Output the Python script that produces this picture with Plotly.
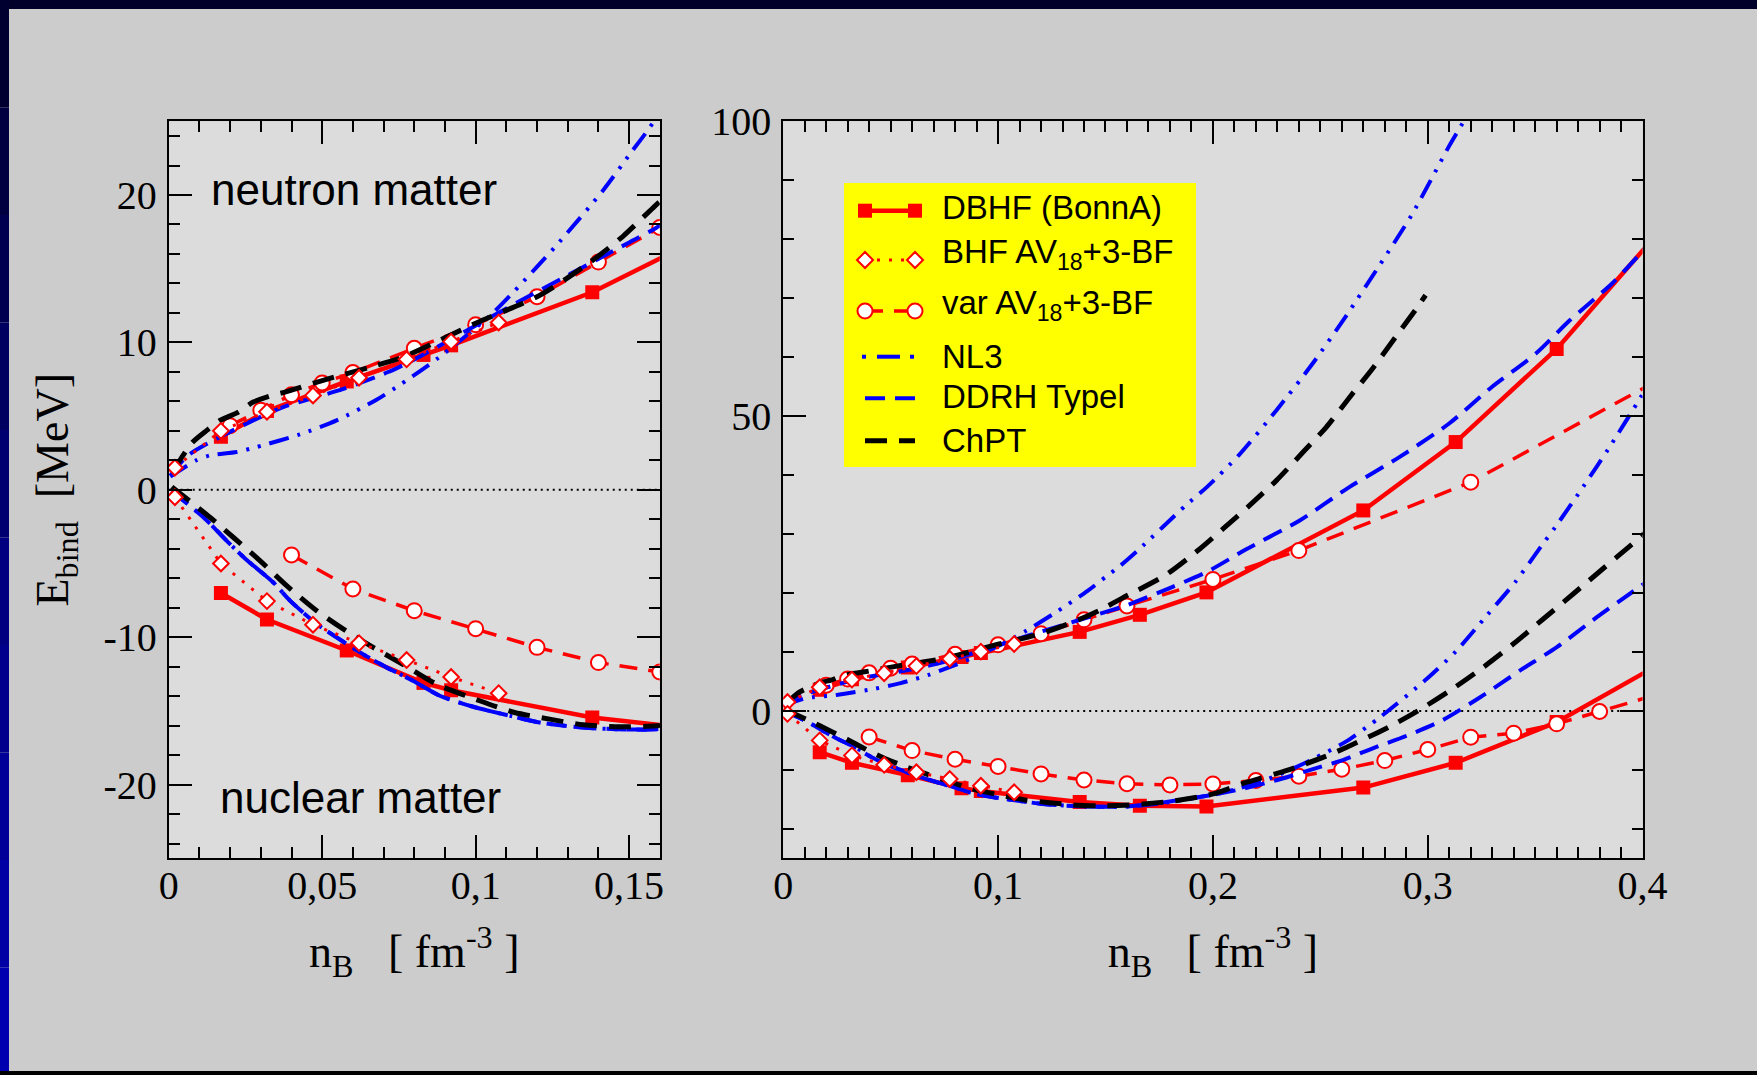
import plotly.graph_objects as go

# ------------------------------------------------------------------
# Data  (n_B in fm^-3, E_bind in MeV)
# ------------------------------------------------------------------
# DBHF (Bonn A)
dbhf_n = [0.017, 0.032, 0.058, 0.083, 0.092, 0.138, 0.166, 0.197, 0.270, 0.313, 0.360, 0.420]
dbhf_neutron_E = [3.6, 5.35, 7.35, 9.15, 9.8, 13.4, 16.3, 20.1, 34.0, 45.6, 61.4, 86.4]
dbhf_nuclear_E = [-7.0, -8.8, -10.9, -13.1, -13.6, -15.45, -16.1, -16.2, -13.0, -8.8, -1.9, 10.4]

# BHF AV18 + 3-BF
bhf_n = [0.002, 0.017, 0.032, 0.047, 0.062, 0.0775, 0.092, 0.1075]
bhf_neutron_E = [1.5, 4.0, 5.3, 6.4, 7.6, 8.85, 10.05, 11.35]
bhf_nuclear_E = [-0.5, -5.0, -7.55, -9.15, -10.4, -11.55, -12.7, -13.8]

# variational AV18 + 3-BF
var_neutron_n = [0.02, 0.03, 0.04, 0.05, 0.06, 0.08, 0.10, 0.12, 0.14, 0.16, 0.20, 0.24, 0.32, 0.48]
var_neutron_E = [4.35, 5.4, 6.45, 7.25, 7.95, 9.6, 11.2, 13.1, 15.45, 17.8, 22.3, 27.2, 38.8, 70.5]
var_nuclear_n = [0.04, 0.06, 0.08, 0.10, 0.12, 0.14, 0.16, 0.18, 0.20, 0.22, 0.24, 0.26,
                 0.28, 0.30, 0.32, 0.34, 0.36, 0.38, 0.42]
var_nuclear_E = [-4.42, -6.73, -8.2, -9.42, -10.69, -11.72, -12.36, -12.55, -12.38, -11.81, -11.07, -9.9,
                 -8.42, -6.55, -4.46, -3.78, -2.19, -0.1, 4.2]

# NL3
nl3_neutron_n = [0.0005, 0.009, 0.0134, 0.0221, 0.0286, 0.0427, 0.0547, 0.0677, 0.0759, 0.0878, 0.1046,
                 0.1127, 0.1258, 0.1415, 0.1502, 0.1567, 0.1653, 0.1872, 0.1973, 0.2119, 0.2296, 0.2466,
                 0.2622, 0.2776, 0.2925, 0.3098, 0.3156, 0.33]
nl3_neutron_E = [0.9, 2.0, 2.33, 2.56, 2.9, 3.76, 4.71, 6.11, 7.2, 8.94, 11.8,
                 13.5, 16.46, 20.31, 22.76, 24.57, 27.3, 34.8, 38.0, 43.3, 51.0, 59.0,
                 67.1, 75.6, 84.1, 95.7, 99.3, 108.5]
nl3_nuclear_n = [0.001, 0.0113, 0.0199, 0.0254, 0.034, 0.0395, 0.0482, 0.0547, 0.0623, 0.071, 0.0796,
                 0.0883, 0.0992, 0.1111, 0.1209, 0.135, 0.1459, 0.1589, 0.1754, 0.2002, 0.2127, 0.2297,
                 0.2468, 0.2615, 0.2778, 0.2996, 0.3135, 0.3275, 0.3407, 0.3531, 0.3594, 0.3727, 0.3842,
                 0.3991, 0.41]
nl3_nuclear_E = [-0.1, -1.86, -3.67, -4.76, -6.27, -7.52, -9.1, -10.01, -11.03, -12.05, -12.96,
                 -13.97, -14.72, -15.33, -15.79, -16.13, -16.24, -16.24, -15.7, -14.2, -13.1, -11.0,
                 -8.13, -5.3, -1.07, 5.45, 10.25, 16.19, 21.84, 28.07, 31.2, 38.2, 44.5,
                 53.2, 60.0]

# DDRH (Typel)
ddrh_neutron_n = [0.0005, 0.0064, 0.0275, 0.0373, 0.0569, 0.0715, 0.0799, 0.1138, 0.1502, 0.1589, 0.181,
                  0.1973, 0.2155, 0.2404, 0.2635, 0.2866, 0.3098, 0.3297, 0.3503, 0.366, 0.3858, 0.3991, 0.41]
ddrh_neutron_E = [0.95, 2.35, 4.71, 5.61, 6.84, 7.99, 8.83, 12.74, 16.8, 17.78, 21.0,
                  23.6, 27.4, 32.3, 37.96, 43.0, 48.7, 54.9, 60.6, 66.2, 72.5, 77.6, 81.8]
ddrh_nuclear_n = [0.001, 0.0113, 0.0199, 0.0254, 0.034, 0.0395, 0.0482, 0.0547, 0.0623, 0.071, 0.0796,
                  0.0883, 0.0992, 0.1111, 0.1209, 0.135, 0.1459, 0.1589, 0.1754, 0.2002, 0.2127, 0.2282,
                  0.25, 0.2608, 0.2747, 0.2903, 0.3066, 0.3244, 0.343, 0.3601, 0.3787, 0.3973, 0.41]
ddrh_nuclear_E = [-0.1, -1.86, -3.67, -4.76, -6.27, -7.52, -9.1, -10.01, -11.03, -12.05, -12.96,
                  -13.97, -14.72, -15.33, -15.79, -16.13, -16.24, -16.24, -15.6, -14.2, -13.3, -11.9,
                  -9.5, -8.3, -6.3, -4.2, -1.63, 2.32, 6.86, 10.81, 15.9, 20.7, 24.0]

# ChPT
chpt_neutron_n = [0.0015, 0.0075, 0.0124, 0.0167, 0.0227, 0.0275, 0.0335, 0.0379, 0.0503, 0.0666, 0.0764,
                  0.10, 0.12, 0.1296, 0.1399, 0.148, 0.1578, 0.1778, 0.194, 0.2048, 0.2172, 0.2296,
                  0.242, 0.2527, 0.2643, 0.2748, 0.285, 0.2941, 0.299]
chpt_neutron_E = [1.3, 3.17, 4.03, 4.7, 5.27, 5.95, 6.4, 6.63, 7.43, 8.38, 9.01,
                  11.3, 13.1, 14.33, 15.85, 17.2, 19.13, 23.0, 27.5, 30.9, 34.9, 39.1,
                  43.9, 48.1, 53.5, 58.3, 63.4, 67.9, 70.5]
chpt_nuclear_n = [0.001, 0.0134, 0.021, 0.0297, 0.0384, 0.0482, 0.0568, 0.0666, 0.0764, 0.0872, 0.1013,
                  0.1127, 0.1241, 0.135, 0.1469, 0.1589, 0.1676, 0.1832, 0.2002, 0.2158, 0.2344, 0.2515,
                  0.2623, 0.2817, 0.2957, 0.3104, 0.3259, 0.3399, 0.3539, 0.3678, 0.3818, 0.3942, 0.41]
chpt_nuclear_E = [0.2, -1.86, -3.22, -4.8, -6.5, -8.2, -9.44, -10.69, -11.85, -13.18, -14.31,
                  -15.11, -15.56, -15.94, -16.08, -16.01, -15.8, -15.2, -14.07, -12.1, -10.1, -7.85,
                  -6.16, -2.77, 0.07, 3.46, 7.42, 11.38, 15.63, 19.87, 24.2, 28.0, 33.0]

# tick labels (decimal comma, plain hyphen)
left_x_ticks = [0, 0.05, 0.1, 0.15]
left_x_text = ["0", "0,05", "0,1", "0,15"]
left_y_ticks = [-20, -10, 0, 10, 20]
left_y_text = ["-20", "-10", "0", "10", "20"]
right_x_ticks = [0, 0.1, 0.2, 0.3, 0.4]
right_x_text = ["0", "0,1", "0,2", "0,3", "0,4"]
right_y_ticks = [0, 50, 100]
right_y_text = ["0", "50", "100"]

legend_labels = ["DBHF (BonnA)", "BHF AV<sub>18</sub>+3-BF", "var AV<sub>18</sub>+3-BF",
                 "NL3", "DDRH Typel", "ChPT"]

# ------------------------------------------------------------------
# Styles
# ------------------------------------------------------------------
RED, BLUE, BLACK = "#ff0000", "#0000ff", "#000000"
SERIF = "Liberation Serif"
SANS = "Liberation Sans"

styles = {
    "DBHF": dict(line=dict(color=RED, width=4.5, dash="solid", shape="linear"),
                 marker=dict(symbol="square", size=14, color=RED, line=dict(width=0)),
                 mode="lines+markers", glyph="square"),
    "BHF": dict(line=dict(color=RED, width=3, dash="3px,9px", shape="linear"),
                marker=dict(symbol="diamond", size=12, color="white", line=dict(color=RED, width=2)),
                mode="lines+markers", glyph="diamond"),
    "var": dict(line=dict(color=RED, width=3.5, dash="18px,11px", shape="linear"),
                marker=dict(symbol="circle", size=15, color="white", line=dict(color=RED, width=2)),
                mode="lines+markers", glyph="circle"),
    "NL3": dict(line=dict(color=BLUE, width=4, dash="20px,9px,3px,9px,3px,9px", shape="spline", smoothing=0.7),
                marker=None, mode="lines", glyph=None),
    "DDRH": dict(line=dict(color=BLUE, width=4, dash="20px,10px", shape="spline", smoothing=0.7),
                 marker=None, mode="lines", glyph=None),
    "ChPT": dict(line=dict(color=BLACK, width=5, dash="22px,12px", shape="spline", smoothing=0.7),
                 marker=None, mode="lines", glyph=None),
}

series = {
    "DBHF": [(dbhf_n, dbhf_neutron_E), (dbhf_n, dbhf_nuclear_E)],
    "BHF": [(bhf_n, bhf_neutron_E), (bhf_n, bhf_nuclear_E)],
    "var": [(var_neutron_n, var_neutron_E), (var_nuclear_n, var_nuclear_E)],
    "NL3": [(nl3_neutron_n, nl3_neutron_E), (nl3_nuclear_n, nl3_nuclear_E)],
    "DDRH": [(ddrh_neutron_n, ddrh_neutron_E), (ddrh_nuclear_n, ddrh_nuclear_E)],
    "ChPT": [(chpt_neutron_n, chpt_neutron_E), (chpt_nuclear_n, chpt_nuclear_E)],
}
draw_order = ["DBHF", "var", "NL3", "DDRH", "ChPT", "BHF"]
legend_order = ["DBHF", "BHF", "var", "NL3", "DDRH", "ChPT"]

# ------------------------------------------------------------------
# Geometry (pixels of the 1757 x 1075 page)
# ------------------------------------------------------------------
W, H = 1757, 1075
def fx(p):
    return p / W
def fy(p):
    return 1 - p / H

PLOT_TOP, PLOT_BOTTOM = 121.3, 858.3
LEFT_X0, LEFT_X1 = 168.75, 659.8
RIGHT_X0, RIGHT_X1 = 783.2, 1642.6

fig = go.Figure()

for key in draw_order:
    st = styles[key]
    for xa, ya in (("x", "y"), ("x2", "y2")):
        for n, e in series[key]:
            kw = dict(x=n, y=e, mode=st["mode"], line=st["line"], xaxis=xa, yaxis=ya,
                      showlegend=False, hoverinfo="skip", cliponaxis=True)
            if st["marker"] is not None:
                kw["marker"] = st["marker"]
            fig.add_trace(go.Scatter(**kw))

tickfont = dict(family=SERIF, size=40, color="black")
titlefont = dict(family=SERIF, size=46, color="black")

def axis(rng, dom, tickvals, ticktext, minor_dtick, **extra):
    d = dict(range=rng, domain=dom, tickmode="array", tickvals=tickvals, ticktext=ticktext,
             showline=True, linecolor="black", linewidth=2, mirror="allticks",
             ticks="inside", ticklen=23, tickwidth=2, tickcolor="black",
             minor=dict(ticks="inside", ticklen=11, tickwidth=2, tickcolor="black",
                        dtick=minor_dtick, tick0=0, showgrid=False),
             showgrid=False, zeroline=False, tickfont=tickfont, fixedrange=True,
             automargin=False)
    d.update(extra)
    return d

xtitle = "n<sub>B</sub>\u00a0\u00a0\u00a0[ fm<sup>-3</sup> ]"

fig.update_layout(
    width=W, height=H, autosize=False, margin=dict(l=0, r=0, t=0, b=0, pad=0),
    paper_bgcolor="#cccccc", plot_bgcolor="#dcdcdc",
    showlegend=False,
    xaxis=axis([0, 0.16], [fx(LEFT_X0), fx(LEFT_X1)], left_x_ticks, left_x_text, 0.01,
               anchor="y", ticklabelstandoff=-9,
               title=dict(text=xtitle, font=titlefont, standoff=28)),
    yaxis=axis([-25, 25], [fy(PLOT_BOTTOM), fy(PLOT_TOP)], left_y_ticks, left_y_text, 2,
               anchor="x", ticklabelstandoff=2,
               title=dict(text="E<sub>bind</sub>\u00a0\u00a0[MeV]", font=titlefont, standoff=20)),
    xaxis2=axis([0, 0.4], [fx(RIGHT_X0), fx(RIGHT_X1)], right_x_ticks, right_x_text, 0.01,
                anchor="y2", ticklabelstandoff=-9,
                title=dict(text=xtitle, font=titlefont, standoff=28)),
    yaxis2=axis([-25, 100], [fy(PLOT_BOTTOM), fy(PLOT_TOP)], right_y_ticks, right_y_text, 10,
                anchor="x2", ticklabelstandoff=2),
)

shapes = []
# dotted zero lines
for xr, yr in (("x domain", "y"), ("x2 domain", "y2")):
    shapes.append(dict(type="line", xref=xr, yref=yr, x0=0, x1=1, y0=0, y1=0,
                       line=dict(color="black", width=2, dash="2px,4px"), layer="below"))

# slide frame (dark border)
shapes.append(dict(type="rect", xref="paper", yref="paper", x0=0, x1=1, y0=fy(9), y1=1,
                   fillcolor="#00002a", line=dict(width=0), layer="below"))
frame_cols = ["#000030", "#000040", "#000050", "#000060", "#000070", "#000080",
              "#00008c", "#000098", "#0000a4", "#0000b0"]
for i, c in enumerate(frame_cols):
    shapes.append(dict(type="rect", xref="paper", yref="paper", x0=0, x1=fx(9),
                       y0=fy(H * (i + 1) / len(frame_cols)), y1=fy(H * i / len(frame_cols)),
                       fillcolor=c, line=dict(width=0), layer="below"))
shapes.append(dict(type="rect", xref="paper", yref="paper", x0=0, x1=1, y0=0, y1=fy(1071),
                   fillcolor="#000000", line=dict(width=0), layer="below"))

# legend box
LEG_X0, LEG_X1, LEG_Y0, LEG_Y1 = 844, 1196, 183, 467
shapes.append(dict(type="rect", xref="paper", yref="paper", x0=fx(LEG_X0), x1=fx(LEG_X1),
                   y0=fy(LEG_Y1), y1=fy(LEG_Y0), fillcolor="#ffff00", line=dict(width=0),
                   layer="above"))
row_y = [210.7, 260, 311, 356.7, 398.3, 440.7]
text_y = [207.5, 254, 305, 356.7, 396.7, 440]
SAMPLE_X0, SAMPLE_X1, TEXT_X = 865, 915, 940
# NL3 legend sample drawn as dot - dash - dot pieces (pixel x ranges)
nl3_sample_pieces = [(862, 866), (877, 900), (910, 914)]

annotations = []
for key, label, ry, ty in zip(legend_order, legend_labels, row_y, text_y):
    st = styles[key]
    ln = st["line"]
    if key == "NL3":
        for a, b in nl3_sample_pieces:
            shapes.append(dict(type="line", xref="paper", yref="paper", x0=fx(a), x1=fx(b),
                               y0=fy(ry), y1=fy(ry),
                               line=dict(color=ln["color"], width=ln["width"]), layer="above"))
    else:
        shapes.append(dict(type="line", xref="paper", yref="paper", x0=fx(SAMPLE_X0),
                           x1=fx(SAMPLE_X1), y0=fy(ry), y1=fy(ry),
                           line=dict(color=ln["color"], width=ln["width"], dash=ln["dash"]),
                           layer="above"))
    if st["glyph"]:
        mk = st["marker"]
        lw = mk["line"].get("width", 0)
        lc = mk["line"].get("color", mk["color"])
        for gx in (SAMPLE_X0, SAMPLE_X1):
            base = dict(xref="paper", yref="paper", xsizemode="pixel", ysizemode="pixel",
                        xanchor=fx(gx), yanchor=fy(ry), fillcolor=mk["color"],
                        line=dict(color=lc, width=lw), layer="above")
            if st["glyph"] == "square":
                base.update(type="rect", x0=-7, x1=7, y0=-7, y1=7)
            elif st["glyph"] == "circle":
                base.update(type="circle", x0=-7.5, x1=7.5, y0=-7.5, y1=7.5)
            else:
                base.update(type="path", path="M-8,0L0,8L8,0L0,-8Z")
            shapes.append(base)
    annotations.append(dict(xref="paper", yref="paper", x=fx(TEXT_X), y=fy(ty), text=label,
                            showarrow=False, xanchor="left", yanchor="middle",
                            font=dict(family=SANS, size=33, color="black")))

# panel labels
annotations.append(dict(xref="x", yref="y", x=0.0131, y=20.4, text="neutron matter",
                        showarrow=False, xanchor="left", yanchor="middle",
                        font=dict(family=SANS, size=44, color="black")))
annotations.append(dict(xref="x", yref="y", x=0.016, y=-20.85, text="nuclear matter",
                        showarrow=False, xanchor="left", yanchor="middle",
                        font=dict(family=SANS, size=44, color="black")))

fig.update_layout(shapes=shapes, annotations=annotations)

# the page body gets no default 8px margin, so the figure fills the window exactly
fig.write_html("out.html",
               config={"displayModeBar": False, "staticPlot": True},
               post_script="document.body.style.margin='0px';"
                           "document.body.style.overflow='hidden';")
